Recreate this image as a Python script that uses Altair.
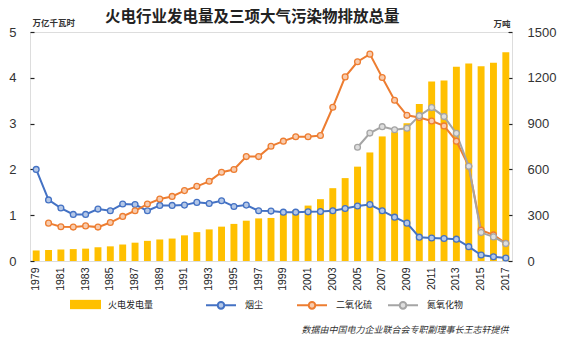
import altair as alt
import pandas as pd

years = list(range(1979, 2018))
thermal = [0.23, 0.24, 0.25, 0.26, 0.27, 0.30, 0.32, 0.36, 0.40, 0.44,
           0.47, 0.49, 0.56, 0.63, 0.69, 0.75, 0.81, 0.88, 0.93, 0.94,
           1.03, 1.11, 1.21, 1.35, 1.59, 1.81, 2.06, 2.37, 2.72, 2.81,
           3.01, 3.43, 3.92, 3.94, 4.24, 4.31, 4.25, 4.33, 4.56]
soot = [600, 400, 347, 305, 305, 340, 329, 373, 370, 329,
        364, 364, 366, 384, 377, 395, 357, 366, 329, 327,
        320, 320, 322, 324, 329, 344, 360, 370, 329, 287,
        248, 156, 151, 147, 143, 94, 39, 28, 20]
so2_years = list(range(1980, 2018))
so2 = [248, 224, 222, 230, 222, 252, 292, 329, 373, 406,
       423, 461, 489, 522, 581, 599, 684, 684, 752, 785,
       814, 814, 822, 1007, 1206, 1305, 1355, 1202, 1053, 954,
       940, 917, 885, 785, 620, 202, 171, 116]
nox_years = list(range(2005, 2018))
nox = [745, 838, 880, 860, 870, 952, 1005, 946, 836, 620, 186, 158, 114]

bar_name = "火电发电量"
line_names = ["烟尘", "二氧化硫", "氮氧化物"]
line_colors = ["#4472C4", "#ED7D31", "#A5A5A5"]
line_fill = ["#B4C7E7", "#F8CBAD", "#DEDEDE"]
bar_color = "#FFC000"
x_label_years = list(range(1979, 2018, 2))

bars_df = pd.DataFrame({"year": years, "value": thermal, "series": bar_name})
lines_df = pd.concat([
    pd.DataFrame({"year": years, "value": soot, "series": line_names[0]}),
    pd.DataFrame({"year": so2_years, "value": so2, "series": line_names[1]}),
    pd.DataFrame({"year": nox_years, "value": nox, "series": line_names[2]}),
], ignore_index=True)

FONT = "Noto Sans CJK SC"
NUMF = "Liberation Sans"

x_enc = alt.X(
    "year:O",
    scale=alt.Scale(paddingInner=0.44, paddingOuter=0.22),
    axis=alt.Axis(
        values=x_label_years, labelAngle=-90, labelAlign="right",
        labelBaseline="middle", labelPadding=6, labelFont=NUMF,
        labelFontSize=10.5, labelColor="#222", ticks=False, domain=False,
        title="数据由中国电力企业联合会专职副理事长王志轩提供",
        titleFont=FONT, titleFontSize=9, titleFontWeight="normal",
        titleFontStyle="italic", titleColor="#333",
        titleAnchor="end", titleAlign="right", titleX=478, titleY=68,
        titleBaseline="middle",
    ),
)

rect_path = "M-1,-0.3L1,-0.3L1,0.3L-1,0.3Z"
line_circle_path = ("M-1,0L-0.22,0M0.22,0L1,0"
                    "M-0.22,0A0.22,0.22 0 1,0 0.22,0A0.22,0.22 0 1,0 -0.22,0Z")

bars = alt.Chart(bars_df).mark_bar().encode(
    x=x_enc,
    y=alt.Y("value:Q", scale=alt.Scale(domain=[0, 5]),
            axis=alt.Axis(values=[0, 1, 2, 3, 4, 5], orient="left", offset=-4,
                          tickSize=4, tickColor="#222", tickWidth=1.2,
                          domain=False, grid=False, labelFont=NUMF,
                          labelFontSize=13, labelColor="#333", labelPadding=14,
                          title="万亿千瓦时", titleAngle=0, titleFont=FONT,
                          titleFontSize=8.5, titleFontWeight="bold",
                          titleColor="#333", titleAlign="left", titleX=-2,
                          titleY=-10, titleBaseline="middle")),
    fill=alt.Fill("series:N", scale=alt.Scale(domain=[bar_name], range=[bar_color]),
                  legend=alt.Legend(orient="none", legendX=40, legendY=257,
                                    direction="horizontal", title=None,
                                    symbolType=rect_path, symbolSize=961,
                                    symbolStrokeWidth=0, labelFont=FONT,
                                    labelFontSize=9, labelColor="#222",
                                    labelOffset=7)),
)

stroke_scale = alt.Scale(domain=line_names, range=line_colors)
stroke_legend = alt.Legend(orient="none", legendX=175, legendY=257,
                           direction="horizontal", title=None,
                           symbolType=line_circle_path, symbolSize=900,
                           symbolStrokeWidth=2, symbolFillColor="white",
                           labelFont=FONT, labelFontSize=9, labelColor="#222",
                           labelOffset=8, gridAlign="all", columnPadding=11)

right_axis = alt.Axis(values=[0, 300, 600, 900, 1200, 1500], format="d",
                      orient="right", offset=-4, tickSize=4,
                      tickColor="#222", tickWidth=1.2, domain=False,
                      grid=False, labelFont=NUMF, labelFontSize=13,
                      labelColor="#333", labelPadding=15,
                      title="万吨", titleAngle=0, titleFont=FONT,
                      titleFontSize=8.5, titleFontWeight="bold",
                      titleColor="#333", titleAlign="right", titleX=2,
                      titleY=-9, titleBaseline="middle")
y_right = alt.Y("value:Q", scale=alt.Scale(domain=[0, 1500]), axis=right_axis)

lines = alt.Chart(lines_df).mark_line(strokeWidth=2).encode(
    x=x_enc,
    y=y_right,
    stroke=alt.Stroke("series:N", scale=stroke_scale, legend=stroke_legend),
)

points = alt.Chart(lines_df).mark_point(filled=True, size=34, strokeWidth=1.3,
                                        opacity=1).encode(
    x=x_enc,
    y=y_right,
    stroke=alt.Stroke("series:N", scale=stroke_scale, legend=stroke_legend),
    color=alt.Color("series:N", scale=alt.Scale(domain=line_names, range=line_fill),
                    legend=None),
)

chart = alt.layer(bars, alt.layer(lines, points)).resolve_scale(
    y="independent", fill="independent", stroke="independent", color="independent"
).properties(
    width=482, height=229,
    autosize=alt.AutoSizeParams(type="none"),
    padding={"left": 30, "top": 32, "right": 62, "bottom": 77},
    title=alt.TitleParams(
        text="火电行业发电量及三项大气污染物排放总量",
        anchor="start", dx=75, dy=27, frame="group", baseline="bottom", offset=5,
        font=FONT, fontSize=15.5, fontWeight="bold", color="#222",
    ),
).configure_view(stroke="#222", strokeWidth=1.5).configure(background="white")

chart.save("out.html", embed_options={"renderer": "svg", "actions": False})
